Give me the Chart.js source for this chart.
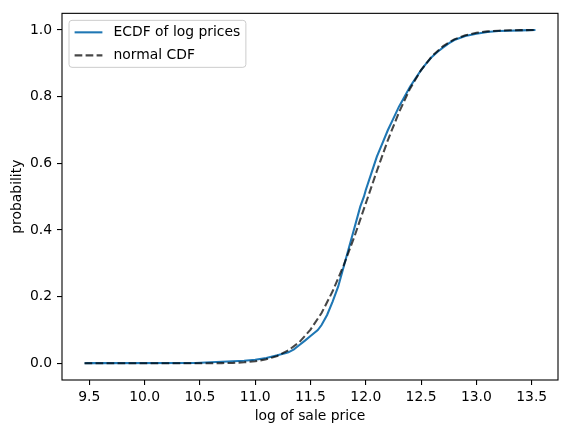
<!DOCTYPE html>
<html>
<head>
<meta charset="utf-8">
<script src="https://cdn.jsdelivr.net/npm/chart.js@4.4.1/dist/chart.umd.min.js"></script>
<style>
  html, body { margin: 0; padding: 0; background: #fff; }
  #wrap { width: 567px; height: 433px; position: relative; }
</style>
</head>
<body>
<div id="wrap"><canvas id="ecdfChart"></canvas></div>
<script>
// ECDF of log sale prices
const logPrices = [9.457, 9.48, 10.46, 10.6, 10.8, 10.9, 11.0, 11.1, 11.2, 11.27, 11.3, 11.35,
  11.4, 11.45, 11.5, 11.566, 11.6, 11.65, 11.7, 11.75, 11.8, 11.85, 11.9, 11.95, 11.983,
  12.0, 12.05, 12.1, 12.15, 12.2, 12.25, 12.3, 12.35, 12.4, 12.45, 12.5, 12.547, 12.6,
  12.65, 12.7, 12.75, 12.8, 12.9, 13.0, 13.1, 13.2, 13.3, 13.4, 13.534];
const ecdfProbs = [0.0003, 0.0007, 0.001, 0.003, 0.006, 0.008, 0.011, 0.016, 0.024, 0.030, 0.033, 0.042,
  0.055, 0.068, 0.082, 0.100, 0.115, 0.145, 0.185, 0.230, 0.290, 0.350, 0.410, 0.470, 0.500,
  0.520, 0.570, 0.620, 0.660, 0.700, 0.735, 0.770, 0.800, 0.830, 0.855, 0.880, 0.900, 0.920,
  0.935, 0.948, 0.960, 0.970, 0.982, 0.989, 0.994, 0.997, 0.998, 0.999, 1.000];

// fitted normal CDF
const normalX = [9.457, 10.0, 10.5, 10.7, 10.8, 10.9, 11.0, 11.1, 11.2, 11.3, 11.4, 11.5, 11.6,
  11.7, 11.8, 11.9, 12.0, 12.1, 12.2, 12.3, 12.4, 12.5, 12.6, 12.7, 12.8, 12.9, 13.0,
  13.1, 13.2, 13.3, 13.4, 13.534];
const normalProbs = [0.0, 0.0, 0.0001, 0.0006, 0.0014, 0.003, 0.0062, 0.012, 0.022, 0.039, 0.064, 0.101, 0.151,
  0.216, 0.294, 0.383, 0.480, 0.577, 0.670, 0.753, 0.824, 0.880, 0.922, 0.952, 0.972, 0.984, 0.9918,
  0.9959, 0.998, 0.9991, 0.9996, 0.9999];

const xTicks = [9.5, 10.0, 10.5, 11.0, 11.5, 12.0, 12.5, 13.0, 13.5];
const yTicks = [0.0, 0.2, 0.4, 0.6, 0.8, 1.0];

const FONT = 'DejaVu Sans';
const FS = 13.9;

// cadre complet + légende en haut à gauche
const framePlugin = {
  id: 'frame',
  afterDraw(chart) {
    const { ctx, chartArea: a } = chart;
    ctx.save();
    ctx.strokeStyle = '#000';
    ctx.lineWidth = 1.1;
    ctx.strokeRect(a.left, a.top, a.right - a.left, a.bottom - a.top);

    // légende
    ctx.font = FS + 'px "' + FONT + '"';
    const items = [chart.data.datasets[1], chart.data.datasets[0]];
    const textW = Math.max(...items.map(ds => ctx.measureText(ds.label).width));
    const x0 = a.left + 7, y0 = a.top + 7, r = 3;
    const w = 5.6 + 27.8 + 11.1 + textW + 5.6, h = 47;
    ctx.beginPath();
    ctx.moveTo(x0 + r, y0);
    ctx.arcTo(x0 + w, y0, x0 + w, y0 + h, r);
    ctx.arcTo(x0 + w, y0 + h, x0, y0 + h, r);
    ctx.arcTo(x0, y0 + h, x0, y0, r);
    ctx.arcTo(x0, y0, x0 + w, y0, r);
    ctx.closePath();
    ctx.fillStyle = 'rgba(255,255,255,0.8)';
    ctx.fill();
    ctx.lineWidth = 1;
    ctx.strokeStyle = '#cccccc';
    ctx.stroke();

    items.forEach((ds, i) => {
      const yy = y0 + 12 + i * 23;
      ctx.beginPath();
      ctx.setLineDash(ds.borderDash || []);
      ctx.strokeStyle = ds.borderColor;
      ctx.lineWidth = ds.borderWidth;
      ctx.moveTo(x0 + 5.6, yy);
      ctx.lineTo(x0 + 5.6 + 27.8, yy);
      ctx.stroke();
      ctx.setLineDash([]);
      ctx.fillStyle = '#000';
      ctx.textBaseline = 'middle';
      ctx.textAlign = 'left';
      ctx.fillText(ds.label, x0 + 5.6 + 27.8 + 11.1, yy);
    });
    ctx.restore();
  }
};

const ctx = document.getElementById('ecdfChart');
new Chart(ctx.getContext('2d'), {
  type: 'line',
  data: {
    datasets: [{
      label: 'normal CDF',
      data: normalX.map((x, i) => ({ x: x, y: normalProbs[i] })),
      borderColor: 'rgba(0,0,0,0.72)',
      borderWidth: 2.08,
      borderDash: [7.7, 3.3],
      pointRadius: 0,
      tension: 0,
      order: 0
    }, {
      label: 'ECDF of log prices',
      data: logPrices.map((x, i) => ({ x: x, y: ecdfProbs[i] })),
      borderColor: '#1f77b4',
      borderWidth: 2.08,
      pointRadius: 0,
      tension: 0,
      order: 1
    }]
  },
  options: {
    responsive: true,
    maintainAspectRatio: false,
    animation: false,
    devicePixelRatio: 1,
    layout: { padding: { top: 10, right: 9, left: 0, bottom: 0 } },
    plugins: {
      legend: { display: false },
      tooltip: { enabled: false }
    },
    scales: {
      x: {
        type: 'linear',
        min: 9.253,
        max: 13.738,
        afterBuildTicks: (s) => { s.ticks = xTicks.map(v => ({ value: v })); },
        afterFit: (s) => { s.height = 53; },
        border: { display: false },
        grid: { drawOnChartArea: false, drawTicks: true, tickLength: 5, color: '#000', lineWidth: 1.1 },
        ticks: {
          color: '#000',
          font: { family: FONT, size: FS },
          padding: 4,
          maxRotation: 0,
          callback: (v) => v.toFixed(1)
        },
        title: {
          display: true,
          text: 'log of sale price',
          color: '#000',
          font: { family: FONT, size: FS },
          padding: { top: 4, bottom: 8.5 }
        }
      },
      y: {
        min: -0.05,
        max: 1.05,
        afterBuildTicks: (s) => { s.ticks = yTicks.map(v => ({ value: v })); },
        afterFit: (s) => { s.width = 62; },
        border: { display: false },
        grid: { drawOnChartArea: false, drawTicks: true, tickLength: 5, color: '#000', lineWidth: 1.1 },
        ticks: {
          color: '#000',
          font: { family: FONT, size: FS },
          padding: 5,
          callback: (v) => v.toFixed(1)
        },
        title: {
          display: true,
          text: 'probability',
          color: '#000',
          font: { family: FONT, size: FS },
          padding: { top: 9.5, bottom: 0 }
        }
      }
    }
  },
  plugins: [framePlugin]
});
</script>
</body>
</html>
